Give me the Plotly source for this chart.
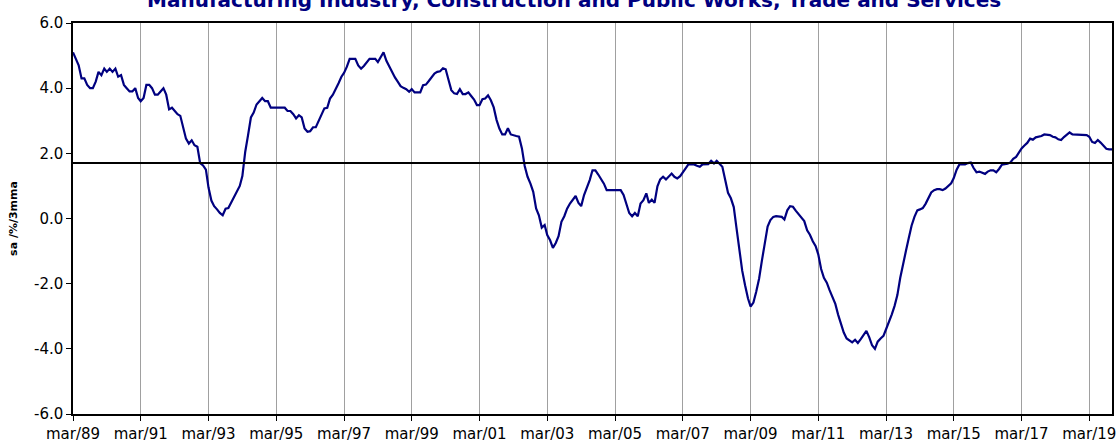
import pandas as pd
import plotly.graph_objects as go

# Monthly values, Mar 1989 .. Nov 2019 (sa, %, 3mma)
values = [
    5.1, 4.9, 4.7, 4.3, 4.3, 4.1, 4.0, 4.0, 4.2, 4.5, 4.4, 4.6,
    4.5, 4.6, 4.5, 4.6, 4.35, 4.4, 4.1, 4.0, 3.9, 3.9, 4.0, 3.7,
    3.6, 3.7, 4.1, 4.1, 4.0, 3.8, 3.8, 3.9, 4.0, 3.8, 3.35, 3.4,
    3.3, 3.2, 3.15, 2.8, 2.45, 2.3, 2.4, 2.25, 2.2, 1.7, 1.63, 1.5,
    0.95, 0.55, 0.38, 0.28, 0.17, 0.1, 0.3, 0.32, 0.48, 0.64, 0.8, 1.0,
    1.3, 2.05, 2.55, 3.1, 3.25, 3.5, 3.6, 3.7, 3.6, 3.6, 3.4, 3.4,
    3.4, 3.4, 3.4, 3.4, 3.3, 3.3, 3.2, 3.07, 3.17, 3.1, 2.76, 2.66,
    2.68, 2.8, 2.8, 3.0, 3.2, 3.38, 3.4, 3.68, 3.8, 4.0, 4.15, 4.35,
    4.47, 4.66, 4.9, 4.9, 4.9, 4.7, 4.6, 4.68, 4.78, 4.9, 4.9, 4.9,
    4.8, 4.94, 5.1, 4.84, 4.68, 4.47, 4.33, 4.2, 4.06, 4.01, 3.97, 3.89,
    3.97, 3.87, 3.87, 3.87, 4.09, 4.11, 4.22, 4.35, 4.45, 4.5, 4.52, 4.61,
    4.58, 4.25, 3.94, 3.84, 3.82, 3.97, 3.82, 3.82, 3.87, 3.76, 3.65, 3.48,
    3.48, 3.66, 3.68, 3.78, 3.63, 3.41, 3.02, 2.76, 2.58, 2.58, 2.77, 2.58,
    2.55, 2.53, 2.51, 2.15, 1.61, 1.28, 1.07, 0.82, 0.31, 0.1, -0.28, -0.2,
    -0.51, -0.67, -0.9, -0.75, -0.54, -0.1, 0.07, 0.3, 0.46, 0.56, 0.69, 0.48,
    0.38, 0.72, 0.95, 1.18, 1.48, 1.48, 1.35, 1.2, 1.07, 0.87, 0.87, 0.87,
    0.87, 0.87, 0.87, 0.72, 0.41, 0.17, 0.07, 0.17, 0.07, 0.46, 0.56, 0.77,
    0.48, 0.58, 0.48, 0.99, 1.2, 1.28, 1.2, 1.3, 1.38, 1.28, 1.23, 1.3,
    1.4, 1.54, 1.66, 1.66, 1.66, 1.62, 1.59, 1.66, 1.66, 1.67, 1.77, 1.69,
    1.77, 1.66, 1.59, 1.18, 0.79, 0.62, 0.35, -0.3, -1.0, -1.6, -2.05, -2.45,
    -2.7, -2.58, -2.25, -1.85, -1.3, -0.7, -0.25, -0.05, 0.05, 0.07, 0.07, 0.05,
    -0.03, 0.25, 0.38, 0.36, 0.24, 0.12, 0.02, -0.08, -0.36, -0.5, -0.7, -0.85,
    -1.1, -1.55, -1.82, -1.97, -2.2, -2.4, -2.62, -2.95, -3.22, -3.5, -3.68, -3.75,
    -3.8, -3.72, -3.82, -3.7, -3.58, -3.45, -3.65, -3.89, -4.0, -3.78, -3.68, -3.6,
    -3.4, -3.2, -2.95, -2.68, -2.35, -1.82, -1.35, -1.0, -0.6, -0.22, 0.05, 0.25,
    0.28, 0.32, 0.45, 0.65, 0.8, 0.87, 0.9, 0.9, 0.87, 0.92, 1.0, 1.08,
    1.24, 1.5, 1.66, 1.66, 1.66, 1.7, 1.72, 1.55, 1.42, 1.44, 1.4, 1.37,
    1.44, 1.48, 1.48, 1.42, 1.52, 1.65, 1.67, 1.68, 1.72, 1.83, 1.89, 2.05,
    2.15, 2.24, 2.32, 2.45, 2.42, 2.49, 2.51, 2.53, 2.58, 2.58, 2.56, 2.51,
    2.49, 2.43, 2.41, 2.5, 2.58, 2.64, 2.58, 2.58, 2.58, 2.58, 2.58, 2.56,
    2.51, 2.35, 2.32, 2.41, 2.33, 2.22, 2.14, 2.12, 2.12,
]
start_month = "1989-03-01"
dates = pd.date_range(start_month, periods=len(values), freq="MS")

average_level = 1.7

tick_labels = ["mar/89", "mar/91", "mar/93", "mar/95", "mar/97", "mar/99", "mar/01",
               "mar/03", "mar/05", "mar/07", "mar/09", "mar/11", "mar/13", "mar/15",
               "mar/17", "mar/19"]
tick_dates = pd.date_range(start_month, periods=len(tick_labels), freq="24MS")

y_ticks = [-6, -4, -2, 0, 2, 4, 6]
y_tick_text = ["%.1f" % v for v in y_ticks]

title_text = "Manufacturing Industry, Construction and Public Works, Trade and Services"
y_title = "sa /%/3mma"

FONT = "Verdana, DejaVu Sans, sans-serif"

fig = go.Figure()
fig.add_trace(go.Scatter(
    x=dates, y=values, mode="lines",
    line=dict(color="#000080", width=2.2),
    hoverinfo="x+y", showlegend=False,
))
fig.add_shape(type="line", xref="paper", x0=0, x1=1, yref="y",
              y0=average_level, y1=average_level,
              line=dict(color="black", width=2))

fig.add_annotation(
    text="<b>" + title_text + "</b>", xref="paper", yref="paper",
    x=0.482, y=1.024, xanchor="center", yanchor="bottom", showarrow=False,
    font=dict(family=FONT, size=20, color="#000080"),
)

fig.update_layout(
    width=1120, height=446,
    margin=dict(l=73, r=8, t=23, b=32, autoexpand=False),
    paper_bgcolor="white", plot_bgcolor="white",
    font=dict(family=FONT, size=15, color="black"),
)
fig.update_xaxes(
    type="date", range=[dates[0], dates[-1]], automargin=False,
    tickvals=tick_dates, ticktext=tick_labels,
    showgrid=True, gridcolor="#a0a0a0", gridwidth=1,
    showline=True, linecolor="black", linewidth=1.5, mirror=True,
    ticks="outside", ticklen=5, tickcolor="black",
    tickfont=dict(family=FONT, size=15), zeroline=False,
)
fig.update_yaxes(
    range=[-6, 6], tickvals=y_ticks, ticktext=y_tick_text, automargin=False,
    showgrid=False, zeroline=False,
    showline=True, linecolor="black", linewidth=1.5, mirror=True,
    ticks="outside", ticklen=5, tickcolor="black",
    tickfont=dict(family=FONT, size=15),
    title=dict(text="<b>" + y_title + "</b>", font=dict(family=FONT, size=11), standoff=14),
)

fig.write_html("out.html", config={"displayModeBar": False},
               post_script="document.body.style.margin='0';")
